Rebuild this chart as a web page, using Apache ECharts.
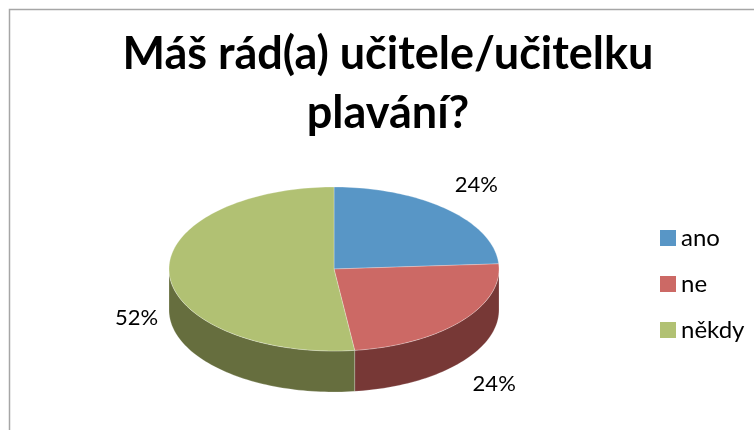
<!DOCTYPE html>
<html>
<head>
<meta charset="utf-8">
<script src="https://cdn.jsdelivr.net/npm/echarts@6/dist/echarts.min.js"></script>
<style>
  html, body { margin: 0; padding: 0; background: #fff; }
  #chart { width: 754px; height: 430px; }
</style>
</head>
<body>
<div id="chart"></div>
<script>
// data
const categories = ['ano', 'ne', 'někdy']
const values = [24, 24, 52]
const percentLabels = ['24%', '24%', '52%']

// colours (top face / side wall)
const topColors = ['#5896C6', '#CC6965', '#B1C173']
const sideColors = ['#3A6285', '#773836', '#666E3E']

// pseudo 3D pie geometry
const cx = 334, cy = 269, rx = 165, ry = 82, depth = 41
// label nudges (layout only)
const labelNudge = [[0, 0], [0, 1], [10, 1]]

const total = values.reduce((a, b) => a + b, 0)
const starts = values.map((v, i) => values.slice(0, i).reduce((a, b) => a + b, 0))

function pt(a, dz) {
  return [cx + rx * Math.sin(a), cy - ry * Math.cos(a) + dz]
}
function arc(a1, a2, dz) {
  const pts = []
  const n = Math.max(2, Math.ceil((a2 - a1) / (Math.PI / 120)))
  for (let k = 0; k <= n; k++) {
    pts.push(pt(a1 + (a2 - a1) * k / n, dz))
  }
  return pts
}

function renderSlice(i) {
  return function (params, api) {
    const v = api.value(0)
    const s = api.value(1)
    const a1 = s / total * Math.PI * 2
    const a2 = (s + v) / total * Math.PI * 2
    const children = []

    // side wall (only the front half is visible)
    const lo = Math.max(a1, Math.PI / 2)
    const hi = Math.min(a2, Math.PI * 3 / 2)
    if (lo < hi) {
      const upper = arc(lo, hi, 0)
      const lower = arc(lo, hi, depth).reverse()
      children.push({
        type: 'polygon',
        shape: { points: upper.concat(lower) },
        style: { fill: sideColors[i], stroke: 'rgba(255,255,255,0.35)', lineWidth: 0.6 }
      })
    }

    // top face
    children.push({
      type: 'polygon',
      shape: { points: [[cx, cy]].concat(arc(a1, a2, 0)) },
      style: { fill: topColors[i], stroke: 'rgba(255,255,255,0.45)', lineWidth: 0.6 }
    })

    // percentage label
    const m = (a1 + a2) / 2
    let lx = cx + rx * 1.26 * Math.sin(m)
    let ly = cy - ry * 1.4 * Math.cos(m)
    if (-Math.cos(m) > 0) ly += depth
    children.push({
      type: 'text',
      x: lx + labelNudge[i][0],
      y: ly + labelNudge[i][1],
      style: {
        text: percentLabels[i],
        fill: '#000',
        font: '22px Lato',
        align: 'center',
        verticalAlign: 'middle'
      }
    })
    return { type: 'group', children: children }
  }
}

const chart = echarts.init(document.getElementById('chart'))
chart.setOption({
  animation: false,
  backgroundColor: '#fff',
  title: {
    text: 'Máš rád(a) učitele/učitelku\nplavání?',
    left: 383,
    top: 20,
    textAlign: 'center',
    textStyle: {
      fontFamily: 'Lato',
      fontWeight: 'bold',
      fontSize: 45,
      lineHeight: 59,
      color: '#000'
    }
  },
  legend: {
    orient: 'vertical',
    left: 655,
    top: 221,
    icon: 'rect',
    itemWidth: 16,
    itemHeight: 16,
    itemGap: 22,
    data: categories,
    textStyle: { fontFamily: 'Lato', fontSize: 24, color: '#000' }
  },
  graphic: [{
    type: 'rect',
    shape: { x: 9.5, y: 9.5, width: 900, height: 600 },
    style: { fill: 'none', stroke: '#A6A6A6', lineWidth: 1.5 },
    silent: true
  }],
  series: categories.map((name, i) => ({
    name: name,
    type: 'custom',
    coordinateSystem: 'none',
    itemStyle: { color: topColors[i] },
    renderItem: renderSlice(i),
    data: [[values[i], starts[i]]]
  }))
})
</script>
</body>
</html>
